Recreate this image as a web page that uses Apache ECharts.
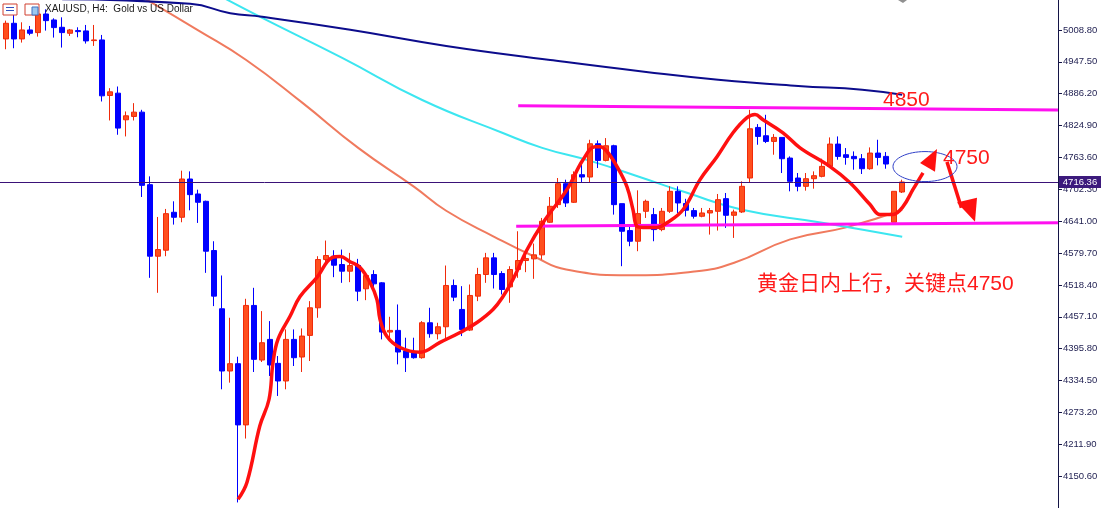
<!DOCTYPE html>
<html><head><meta charset="utf-8">
<script src="https://cdn.jsdelivr.net/npm/echarts@6/dist/echarts.min.js"></script>
<style>html,body{margin:0;padding:0;background:#fff;overflow:hidden}#c{width:1102px;height:508px}</style>
</head><body><div id="c"></div>
<script>
// ---- data (XAUUSD H4) ----
const opens  = [4991.5,5021.6,4991.5,5008.8,5003.7,5039.5,5028.0,5013.9,5002.4,5007.5,5006.9,4988.3,4989.6,4882.7,4887.2,4836.0,4842.4,4850.7,4711.2,4573.6,
4585.1,4658.1,4648.5,4722.1,4693.3,4679.2,4584.5,4472.5,4352.8,4366.9,4249.1,4478.9,4373.9,4413.6,4367.5,4333.6,4413.6,4379.7,4421.3,4474.4,
4567.2,4573.6,4557.6,4544.8,4555.7,4510.9,4538.4,4522.4,4427.7,4430.9,4391.2,4388.0,4378.4,4445.6,4424.5,4437.9,4517.3,4471.2,4431.5,4496.8,
4538.4,4570.4,4540.3,4514.7,4548.0,4565.3,4568.5,4576.2,4638.9,4672.8,4713.1,4677.3,4730.4,4725.9,4789.9,4757.9,4786.1,4674.7,4622.9,4602.4,
4660.0,4653.6,4624.8,4660.0,4698.4,4675.0,4661.3,4650.4,4656.8,4660.0,4684.3,4652.3,4658.7,4724.0,4821.3,4805.3,4794.4,4802.1,4762.4,4724.0,
4708.0,4722.7,4727.2,4746.4,4789.3,4768.8,4765.6,4761.1,4741.9,4772.0,4765.6,4638.9,4697.1];
const closes = [5021.6,4991.5,5008.8,5002.4,5039.5,5026.7,5013.3,5003.7,5008.8,5005.6,4987.7,4989.6,4882.1,4889.8,4820.0,4843.7,4850.7,4709.9,4573.6,4586.4,
4655.5,4648.5,4722.1,4692.0,4677.3,4583.2,4496.8,4352.8,4366.9,4249.1,4478.9,4375.2,4407.2,4364.3,4333.6,4413.6,4378.4,4420.0,4474.4,4567.2,
4574.9,4556.3,4544.8,4555.7,4506.4,4536.5,4520.5,4427.7,4430.9,4389.3,4378.4,4378.4,4445.6,4424.5,4437.9,4517.3,4494.9,4432.8,4498.1,4538.4,
4570.4,4538.4,4509.6,4548.0,4565.3,4569.1,4576.2,4640.8,4669.6,4713.1,4676.0,4730.4,4725.9,4789.9,4757.9,4786.1,4672.8,4621.6,4602.4,4655.5,
4679.2,4624.8,4660.0,4698.4,4676.0,4662.0,4650.4,4656.8,4661.3,4682.4,4652.3,4658.7,4708.0,4818.7,4804.0,4794.4,4802.1,4761.1,4717.6,4708.0,
4722.7,4728.5,4746.4,4789.3,4765.6,4763.7,4761.1,4741.9,4772.0,4763.7,4750.9,4698.4,4716.36];
const lows   = [4971.7,4973.6,4984.5,4998.6,4996.0,5007.5,4994.1,4974.9,4997.3,4994.7,4982.6,4978.1,4871.2,4834.7,4807.2,4804.0,4834.7,4687.5,4532.0,4503.2,
4573.6,4634.4,4638.9,4661.9,4637.6,4541.6,4477.6,4317.6,4330.4,4100.0,4222.9,4350.9,4370.1,4343.2,4304.8,4317.6,4362.4,4350.9,4372.0,4455.2,
4560.8,4533.3,4522.4,4523.7,4487.2,4489.1,4512.8,4413.6,4413.6,4365.6,4350.9,4376.5,4376.5,4416.8,4413.6,4413.6,4487.2,4420.0,4429.6,4487.2,
4522.4,4511.5,4500.0,4484.0,4532.0,4542.9,4530.1,4567.2,4637.6,4666.4,4668.3,4676.0,4714.4,4715.7,4743.2,4756.0,4653.6,4554.4,4592.8,4583.2,
4647.2,4602.4,4621.6,4656.8,4656.8,4650.0,4645.9,4648.5,4615.2,4622.9,4628.0,4608.8,4656.8,4714.4,4788.0,4791.2,4768.8,4733.6,4698.4,4698.4,
4699.7,4703.5,4725.3,4744.5,4759.2,4749.6,4740.0,4731.7,4740.0,4748.3,4741.9,4638.9,4695.2];
const highs  = [5026.7,5037.6,5023.5,5016.5,5042.1,5048.5,5031.2,5033.1,5010.7,5013.9,5018.4,5018.4,4999.2,4896.8,4900.0,4852.0,4868.0,4855.2,4727.2,4649.1,
4664.5,4679.2,4738.1,4736.8,4701.6,4680.5,4602.4,4536.5,4455.2,4380.3,4491.7,4512.8,4468.0,4448.8,4381.6,4432.8,4432.8,4434.7,4487.2,4573.6,
4603.7,4585.1,4586.4,4580.0,4568.5,4541.6,4546.7,4523.7,4457.1,4480.8,4416.8,4416.8,4448.8,4474.4,4445.6,4555.7,4528.8,4516.0,4519.2,4551.2,
4580.0,4580.0,4544.8,4554.4,4621.6,4574.9,4597.9,4647.2,4687.5,4724.0,4720.8,4736.8,4749.6,4797.6,4796.3,4800.8,4788.0,4674.7,4632.5,4700.3,
4682.4,4666.4,4666.4,4708.0,4708.0,4684.0,4666.4,4666.4,4666.4,4693.3,4695.2,4663.2,4717.6,4855.2,4827.7,4845.6,4808.5,4802.1,4765.6,4733.6,
4733.6,4736.8,4761.1,4802.1,4804.0,4781.6,4775.2,4770.1,4782.9,4797.6,4773.9,4698.4,4720.8];

// moving averages: [bar index, price]
const maNavy   = [[7,5068],[23,5059],[28,5041],[32,5034],[43,5009],[55,4978],[68,4951],[80,4928],[89,4913],[99,4901],[107,4894],[112,4884]];
const maCyan   = [[27,5072],[32,5032],[42,4955],[52,4874],[62,4811],[67,4782],[73,4757],[79,4727],[85,4696],[92,4663],[102,4638],[112,4611]];
const maSalmon = [[17,5072],[24,5008],[30,4951],[37,4869],[44,4782],[51,4707],[55,4661],[61,4611],[66,4573],[70,4548],[78,4537],[86,4544],[91,4561],[98,4606],[105,4629],[112,4663]];

// hand-drawn analysis (bar index, price)
const trendPath = [[28.98,4106],[30.1,4139],[31.7,4247],[32.85,4298],[33.35,4369],[33.98,4414],[35.48,4458],[36.73,4496],[38.85,4533],[40.73,4571],[41.73,4573],
[42.98,4563],[44.23,4552],[45.48,4523],[46.35,4490],[46.73,4452],[47.6,4419],[49.23,4398],[51.73,4389],[54.23,4408],[56.73,4427],[58.85,4446],[60.85,4471],
[62.1,4496],[63.35,4529],[65.1,4586],[67.1,4638],[70.1,4702],[72.1,4759],[73.6,4784],[74.23,4784],[75.1,4775],[76.35,4746],[77.6,4707],[78.35,4663],[78.85,4631],
[79.6,4629],[81.35,4629],[82.6,4638],[84.6,4663],[86.73,4721],[88.85,4765],[90.85,4811],[92.6,4840],[93.6,4846],[94.6,4836],[97.1,4811],[99.23,4782],
[102.98,4746],[105.48,4715],[107.98,4673],[109.23,4654],[110.85,4654],[112.1,4669],[113.35,4702],[114.6,4734]];
const upHead   = [[116.35,4780],[114.23,4753],[116.1,4736]];
const downShaft= [[117.6,4755],[119.4,4667]];
const downHead = [[121.1,4640],[118.85,4677],[121.35,4686]];
const resistLine = [[64.0,4863],[131.47,4855]];
const supportLine = [[63.75,4631],[131.47,4638]];
const ellipseCenter = [114.85,4746];
const currentPrice = 4716.36;
const labels = [
  {text:'4850', at:[109.6,4874]},
  {text:'4750', at:[117.1,4763]},
  {text:'黄金日内上行，关键点4750', at:[93.85,4519]}
];
const yMin = 4089.3, yMax = 5066.4, yStep = 61.3;
const title = 'XAUUSD, H4:  Gold vs US Dollar';

const candles = opens.map((o,i)=>[i,o,closes[i],lows[i],highs[i]]);
const chart = echarts.init(document.getElementById('c'));
const lineS = (data,color,w,z)=>({type:'line',data,smooth:true,showSymbol:false,symbol:'none',lineStyle:{color,width:w},z,silent:true,animation:false});
chart.setOption({
  animation:false,
  backgroundColor:'#ffffff',
  grid:{left:0,right:44,top:0,height:509},
  xAxis:{type:'value',min:-0.775,max:131.475,show:false},
  yAxis:{type:'value',position:'right',min:yMin,max:yMax,interval:yStep,scale:true,
    axisLine:{show:true,onZero:false,lineStyle:{color:'#141446',width:1}},
    axisTick:{show:true,length:4,lineStyle:{color:'#141446'}},
    splitLine:{show:false},
    axisLabel:{margin:5,color:'#1e1e50',fontFamily:'Liberation Sans',fontSize:9.5,showMinLabel:false,showMaxLabel:false,
      formatter:v=>v.toFixed(2)}},
  series:[
    lineS(maSalmon,'#F07A5E',2,1),
    lineS(maCyan,'#3CE6F0',2,1),
    lineS(maNavy,'#0C0C8C',2,1),
    {type:'candlestick',data:candles,encode:{x:0,y:[1,2,3,4]},barWidth:5,z:2,silent:true,
      itemStyle:{color:'#FF4F1E',borderColor:'#F02A0A',color0:'#0000FF',borderColor0:'#0000FF',borderWidth:1},
      markLine:{silent:true,symbol:'none',label:{show:false},lineStyle:{color:'#3A1278',width:1,type:'solid'},data:[{yAxis:currentPrice}]}},
    {type:'line',data:resistLine,showSymbol:false,symbol:'none',lineStyle:{color:'#FF10F0',width:3},z:3},
    {type:'line',data:supportLine,showSymbol:false,symbol:'none',lineStyle:{color:'#FF10F0',width:3},z:3},
    Object.assign(lineS(trendPath,'#FF1010',3.5,4),{smooth:0.4}),
    {type:'line',data:downShaft,showSymbol:false,symbol:'none',lineStyle:{color:'#FF1010',width:3.5},z:4}
  ]
});
const px = p=>chart.convertToPixel({xAxisIndex:0,yAxisIndex:0},p);
const g = [];
g.push({type:'polygon',shape:{points:upHead.map(px)},style:{fill:'#FF1010'},z:10});
g.push({type:'polygon',shape:{points:downHead.map(px)},style:{fill:'#FF1010'},z:10});
const ec = px(ellipseCenter);
g.push({type:'ellipse',shape:{cx:ec[0],cy:ec[1],rx:32,ry:15},style:{fill:'none',stroke:'#3040C8',lineWidth:1},z:9});
labels.forEach(l=>{const p=px(l.at);g.push({type:'text',x:p[0],y:p[1],style:{text:l.text,fill:'#FF1A1A',font:'21px "Liberation Sans","Noto Sans CJK SC"',verticalAlign:'middle',align:'left'},z:11});});
const cp = px([0,currentPrice]);
g.push({type:'rect',shape:{x:1059,y:cp[1]-6,width:42,height:12},style:{fill:'#3C1A7C'},z:12});
g.push({type:'text',x:1080,y:cp[1],style:{text:currentPrice.toFixed(2),fill:'#ffffff',font:'9.5px "Liberation Sans"',align:'center',verticalAlign:'middle'},z:13});
g.push({type:'text',x:45,y:9,style:{text:title,fill:'#1a1a1a',font:'10px "Liberation Sans"',verticalAlign:'middle'},z:13});
// toolbar icons
g.push({type:'rect',shape:{x:3,y:4,width:14,height:11},style:{fill:'#fff',stroke:'#D04030',lineWidth:1},z:13});
g.push({type:'line',shape:{x1:6,y1:7.5,x2:14,y2:7.5},style:{stroke:'#3050C0'},z:14});
g.push({type:'line',shape:{x1:6,y1:10.5,x2:14,y2:10.5},style:{stroke:'#3050C0'},z:14});
g.push({type:'rect',shape:{x:25,y:4,width:14,height:11},style:{fill:'#fff',stroke:'#D04030',lineWidth:1},z:13});
g.push({type:'rect',shape:{x:32,y:7,width:6,height:8},style:{fill:'#9CC8F0',stroke:'#4070C0',lineWidth:1},z:14});
g.push({type:'polygon',shape:{points:[[898,0],[907,0],[903,3]]},style:{fill:'#909090'},z:13});
chart.setOption({graphic:g});
</script></body></html>
